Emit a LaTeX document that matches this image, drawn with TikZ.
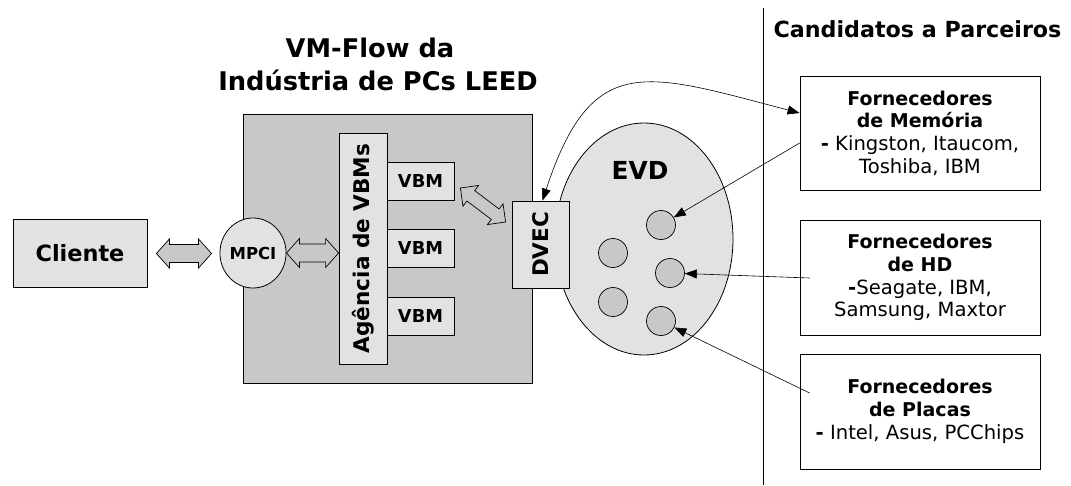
\documentclass[tikz,border=0pt]{standalone}
\usepackage{fontspec}
\setmainfont{DejaVu Sans}
\usetikzlibrary{shapes.geometric,calc,arrows.meta}
\definecolor{lightfill}{HTML}{E2E2E2}
\definecolor{darkfill}{HTML}{C8C8C8}
\newcommand{\fsz}[2]{\fontsize{#1}{#2}\selectfont}
\newcommand{\lst}{\fontsize{19.6}{22.7}\selectfont\mdseries}
% block double arrow between two coordinates: #1 start, #2 end, #3 head half width, #4 shaft half width, #5 head length
\newcommand{\blockdbl}[5]{%
  \coordinate (ba1) at ($(#1)!#5!(#2)$);
  \coordinate (bb1) at ($(#2)!#5!(#1)$);
  \draw[blockline] (#1) -- ($(ba1)!#3!90:(#2)$) -- ($(ba1)!#4!90:(#2)$)
    -- ($(bb1)!#4!-90:(#1)$) -- ($(bb1)!#3!-90:(#1)$) -- (#2)
    -- ($(bb1)!#3!90:(#1)$) -- ($(bb1)!#4!90:(#1)$)
    -- ($(ba1)!#4!-90:(#2)$) -- ($(ba1)!#3!-90:(#2)$) -- cycle;}
\tikzset{
  lbox/.style={draw=black, line width=0.8pt, fill=lightfill, inner sep=0pt, rectangle},
  dbox/.style={draw=black, line width=0.8pt, fill=darkfill, inner sep=0pt, rectangle},
  supbox/.style={draw=black, line width=0.8pt, fill=white, inner sep=0pt, rectangle, align=center,
    font=\fontsize{19}{22.7}\selectfont\bfseries},
  smallc/.style={circle, draw=black, line width=0.7pt, fill=darkfill, minimum size=29pt, inner sep=0pt},
  blockline/.style={draw=black, line width=0.7pt, fill=darkfill, line join=miter},
  thinarrow/.style={line width=0.6pt, -{Triangle[length=12pt,width=9pt]}},
  boldtxt/.style={inner sep=0pt, font=\bfseries},
}
\begin{document}
\begin{tikzpicture}[x=1pt,y=-1pt]
\useasboundingbox (0,0) rectangle (1071,485);
% titles
\node[boldtxt, anchor=base] (title1) at (370,57) {\fsz{25.7}{31}\bfseries VM-Flow da};
\node[boldtxt, anchor=base] (title2) at (378,90) {\fsz{25.7}{31}\bfseries Indústria de PCs LEED};
\node[boldtxt, anchor=base] (cand) at (917.5,37) {\fsz{22.2}{27}\bfseries Candidatos a Parceiros};
% separator line
\coordinate (ltop) at (763,8);
\coordinate (lbot) at (763,485);
\draw[line width=0.8pt] (ltop) -- (lbot);
% client
\node[lbox, minimum width=134pt, minimum height=68pt] (cliente) at (80,253) {\fsz{22.4}{27}\bfseries Cliente};
% VM-flow box
\node[dbox, minimum width=289pt, minimum height=269pt] (vmflow) at (387.5,248.5) {};
\node[lbox, minimum width=48pt, minimum height=231pt] (agencia) at (363,248.5) {\rotatebox{90}{\fsz{21.6}{26}\bfseries Agência de VBMs}};
\node[lbox, minimum width=67pt, minimum height=38pt] (vbm1) at (420.5,181.5) {\fsz{17.8}{21}\bfseries VBM};
\node[lbox, minimum width=67pt, minimum height=38pt] (vbm2) at (420.5,248.5) {\fsz{17.8}{21}\bfseries VBM};
\node[lbox, minimum width=67pt, minimum height=38pt] (vbm3) at (420.5,316) {\fsz{17.8}{21}\bfseries VBM};
\node[ellipse, draw=black, line width=0.8pt, fill=lightfill, minimum width=60pt, minimum height=70pt, inner sep=0pt] (mpci) at (253,253) {\fsz{16.5}{19}\bfseries MPCI};
% block arrows
\coordinate (a1s) at ($(cliente.east)+(9,0.5)$);
\coordinate (a1e) at ($(mpci.west)+(-8,0.5)$);
\blockdbl{a1s}{a1e}{14.5pt}{9pt}{13pt}
\coordinate (a2s) at (mpci.east);
\coordinate (a2e) at (agencia.west |- a2s);
\blockdbl{a2s}{a2e}{14.5pt}{9pt}{13pt}
% EVD
\node[ellipse, draw=black, line width=0.8pt, fill=lightfill, minimum width=178pt, minimum height=232pt, inner sep=0pt] (evd) at (644,239) {};
\node[boldtxt] (evdlabel) at (640,170) {\fsz{24.8}{29}\bfseries EVD};
\node[smallc] (c1) at (661,225) {};
\node[smallc] (c2) at (613,253) {};
\node[smallc] (c3) at (670,273) {};
\node[smallc] (c4) at (613,302) {};
\node[smallc] (c5) at (661,321) {};
% DVEC
\node[lbox, minimum width=57pt, minimum height=87pt] (dvec) at (540.5,244.5) {\rotatebox{90}{\fsz{21.5}{25}\bfseries DVEC}};
\coordinate (a3s) at ($(vbm1.east)+(6,6.5)$);
\coordinate (a3e) at ($(dvec.west)+(-6,-22.5)$);
\blockdbl{a3s}{a3e}{13pt}{6.5pt}{13pt}
% suppliers
\node[supbox, minimum width=240pt, minimum height=114pt] (mem) at (920,133)
  {Fornecedores\\ de Memória\\ {\lst\textbf{-} Kingston, Itaucom,}\\ {\lst Toshiba, IBM}};
\node[supbox, minimum width=240pt, minimum height=115pt] (hd) at (920,277.5)
  {Fornecedores\\ de HD\\ {\lst\textbf{-}Seagate, IBM,}\\ {\lst Samsung, Maxtor}};
\node[supbox, minimum width=240pt, minimum height=115pt] (plc) at (920,411.5)
  {Fornecedores\\ de Placas\\ {\lst\textbf{-} Intel, Asus, PCChips}};
% connectors
\draw[thinarrow] ($(mem.west)+(0,10)$) -- (c1);
\draw[thinarrow] ($(hd.west)+(10,0.5)$) -- (c3);
\draw[thinarrow] ($(plc.west)+(10,-18.5)$) -- (c5);
\draw[line width=0.6pt, {Triangle[length=12pt,width=9pt]}-{Triangle[length=12pt,width=9pt]}]
  ([xshift=2pt]dvec.north) .. controls (592,50) and (646,73) .. ($(mem.west)+(0,-20)$);
\end{tikzpicture}
\end{document}
